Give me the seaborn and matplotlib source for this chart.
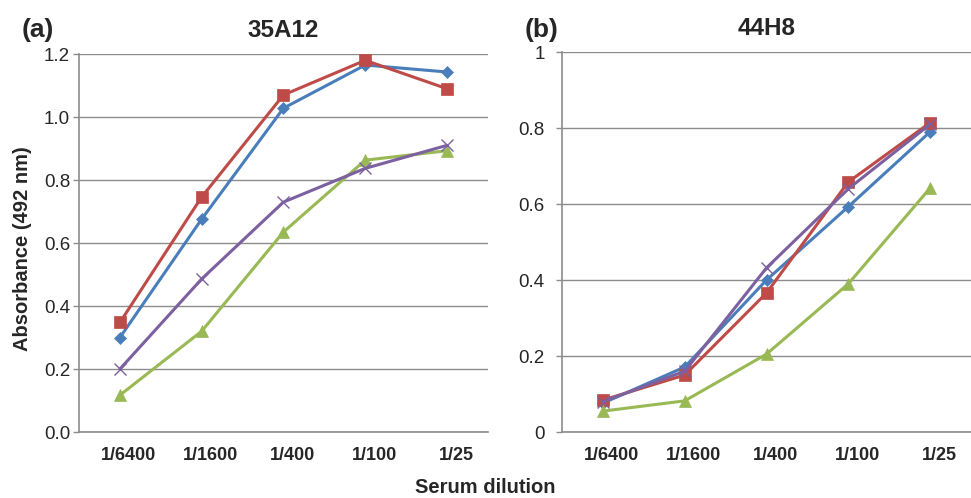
import matplotlib
matplotlib.use("Agg")
import matplotlib.pyplot as plt
import matplotlib.transforms as mtransforms
import seaborn as sns
import pandas as pd

dilutions = ["1/6400", "1/1600", "1/400", "1/100", "1/25"]
series_names = ["S1", "S2", "S3", "S4"]

a_blue = [0.300, 0.676, 1.028, 1.165, 1.143]
a_red = [0.348, 0.746, 1.070, 1.180, 1.090]
a_green = [0.117, 0.320, 0.635, 0.863, 0.893]
a_purple = [0.200, 0.486, 0.730, 0.837, 0.910]

b_blue = [0.076, 0.171, 0.400, 0.593, 0.790]
b_red = [0.084, 0.150, 0.366, 0.658, 0.814]
b_green = [0.055, 0.082, 0.205, 0.390, 0.642]
b_purple = [0.080, 0.160, 0.432, 0.640, 0.810]

a_yticks = [0.0, 0.2, 0.4, 0.6, 0.8, 1.0, 1.2]
a_yticklabels = ["0.0", "0.2", "0.4", "0.6", "0.8", "1.0", "1.2"]
b_yticks = [0, 0.2, 0.4, 0.6, 0.8, 1.0]
b_yticklabels = ["0", "0.2", "0.4", "0.6", "0.8", "1"]

colors = {"S1": "#4A7EBB", "S2": "#BE4B48", "S3": "#98B954", "S4": "#7D60A0"}
markers = {"S1": "D", "S2": "s", "S3": "^", "S4": "x"}
msizes = {"S1": 6, "S2": 8, "S3": 8, "S4": 8}


def make_df(vals):
    rows = []
    for name, v in zip(series_names, vals):
        for i, (d, y) in enumerate(zip(dilutions, v)):
            rows.append({"x": i, "dilution": d, "y": y, "series": name})
    return pd.DataFrame(rows)


sns.set_theme(style="white")
plt.rcParams["font.family"] = ["Liberation Sans", "DejaVu Sans"]

fig = plt.figure(figsize=(9.71, 4.98), dpi=100)
ax1 = fig.add_axes([0.0814, 0.1325, 0.421, 0.759])
ax2 = fig.add_axes([0.5788, 0.1325, 0.4212, 0.763])

panels = [
    (ax1, make_df([a_blue, a_red, a_green, a_purple]), "35A12", (0, 1.2), a_yticks, a_yticklabels, 2.5),
    (ax2, make_df([b_blue, b_red, b_green, b_purple]), "44H8", (0, 1.0), b_yticks, b_yticklabels, 8.5),
]

gridc = "#8c8c8c"
for ax, df, title, ylim, yt, ytl, pad in panels:
    for name in series_names:
        sub = df[df["series"] == name]
        sns.lineplot(data=sub, x="x", y="y", ax=ax, color=colors[name],
                     marker=markers[name], markersize=msizes[name],
                     markeredgecolor=colors[name], markeredgewidth=1.0 if name == "S4" else 0.5,
                     linewidth=2.2, legend=False, zorder=3)
    ax.set_xlim(-0.5, 4.5)
    ax.set_ylim(*ylim)
    ax.set_yticks(yt)
    ax.set_yticklabels(ytl, fontsize=13.5)
    ax.set_xticks(range(len(dilutions)))
    ax.set_xticklabels([])
    trans = mtransforms.blended_transform_factory(ax.transData, ax.transAxes) + \
        mtransforms.ScaledTranslation(9 / 100, -23 / 100, fig.dpi_scale_trans)
    for i, d in enumerate(dilutions):
        ax.text(i, 0, d, transform=trans, fontsize=13, fontweight="bold",
                ha="center", va="center")
    ax.tick_params(axis="x", length=0)
    ax.tick_params(axis="y", length=4, width=1, color=gridc, pad=pad, left=True)
    ax.yaxis.grid(True, color=gridc, linewidth=1)
    ax.xaxis.grid(False)
    for s in ["top", "right"]:
        ax.spines[s].set_visible(False)
    for s in ["left", "bottom"]:
        ax.spines[s].set_color(gridc)
        ax.spines[s].set_linewidth(1.2)
    ax.set_xlabel("")
    ax.set_ylabel("")
    ax.set_title(title, fontsize=17.5, fontweight="bold", pad=12)

fig.text(0.0227, 0.94, "(a)", fontsize=19, fontweight="bold", ha="left", va="center")
fig.text(0.540, 0.94, "(b)", fontsize=19, fontweight="bold", ha="left", va="center")
fig.text(0.0227, 0.50, "Absorbance (492 nm)", fontsize=14.5, fontweight="bold",
         rotation=90, ha="center", va="center")
fig.text(0.5, 0.022, "Serum dilution", fontsize=14.5, fontweight="bold", ha="center", va="center")

fig.savefig("out.png", dpi=100)
